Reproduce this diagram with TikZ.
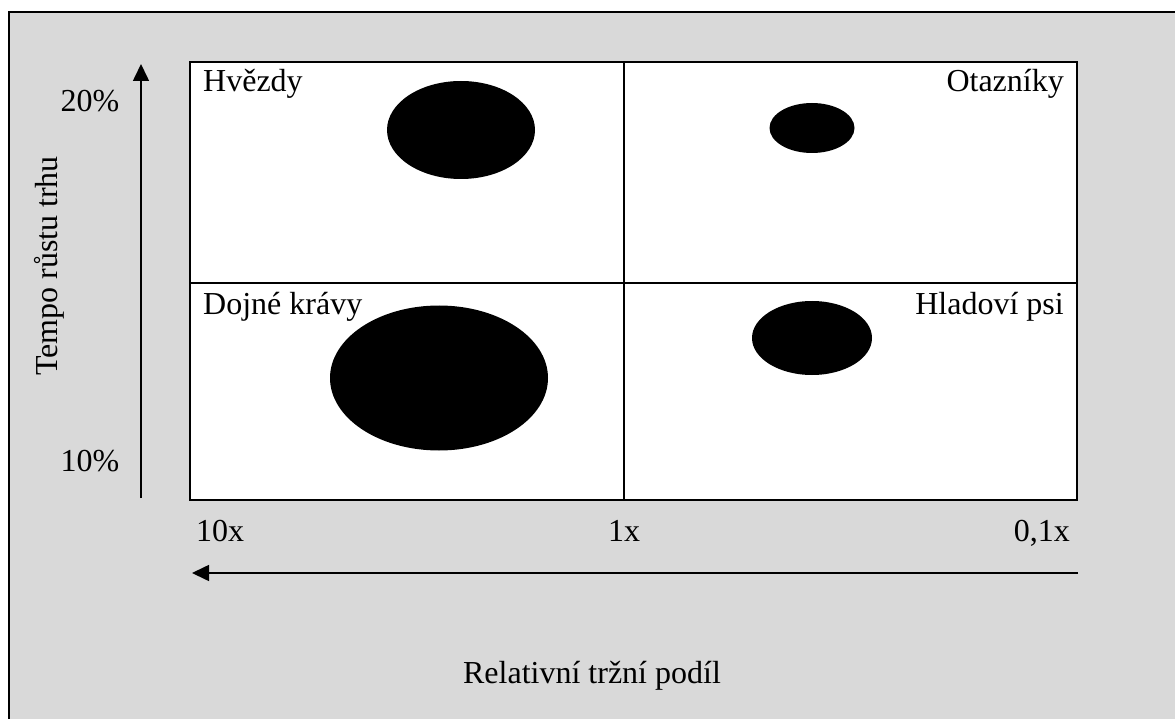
\documentclass[tikz,border=0pt]{standalone}
\usepackage{fontspec}
\setmainfont{Liberation Serif}
\usetikzlibrary{arrows.meta,shapes.geometric}
\begin{document}
\begin{tikzpicture}[x=1pt,y=-1pt,
  lbl/.style={font=\fontsize{32}{38}\selectfont, inner sep=0pt},
  blob/.style={ellipse, fill=black, draw=none, inner sep=0pt},
  axisarrow/.style={line width=1.6pt, -{Triangle[length=17pt,width=16pt]}},
  gridline/.style={line width=2pt}]
  \useasboundingbox (0,0) rectangle (1175,719);
  \clip (0,0) rectangle (1175,719);
  \fill[white] (0,0) rectangle (1175,719);
  % grey panel, framed on its left and top
  \fill[fill={rgb,255:red,217;green,217;blue,217}] (9,12) rectangle (1180,725);
  \draw[line width=2.6pt] (9,725) -- (9,12) -- (1180,12);

  % the four quadrants
  \coordinate (tl) at (190,62);
  \coordinate (br) at (1077,500);
  \coordinate (mt) at (624,62);
  \coordinate (mb) at (624,500);
  \coordinate (ml) at (190,283);
  \coordinate (mr) at (1077,283);
  \fill[white] (tl) rectangle (br);
  \draw[gridline] (tl) rectangle (br);
  \draw[gridline] (mt) -- (mb);
  \draw[gridline] (ml) -- (mr);

  % quadrant titles
  \node[lbl, anchor=base west] (hv) at (203,92) {Hvězdy};
  \node[lbl, anchor=base east] (ot) at (1064,92) {Otazníky};
  \node[lbl, anchor=base west] (dk) at (203,315) {Dojné krávy};
  \node[lbl, anchor=base east] (hp) at (1064,315) {Hladoví psi};

  % business units
  \node[blob, minimum width=148pt, minimum height=98pt] (e1) at (461,130) {};
  \node[blob, minimum width=85pt, minimum height=50pt] (e2) at (812,128) {};
  \node[blob, minimum width=218pt, minimum height=145pt] (e3) at (439,378) {};
  \node[blob, minimum width=120pt, minimum height=74pt] (e4) at (812,338) {};

  % vertical axis
  \coordinate (vy0) at (141,498);
  \coordinate (vy1) at (141,64);
  \draw[axisarrow] (vy0) -- (vy1);
  \node[lbl, anchor=base] (p20) at (90,112) {20\%};
  \node[lbl, anchor=base] (p10) at (90,471) {10\%};
  \node[lbl, rotate=90] (vt) at (49,266) {Tempo růstu trhu};

  % horizontal axis
  \coordinate (hx0) at (1078,573);
  \coordinate (hx1) at (192,573);
  \draw[axisarrow] (hx0) -- (hx1);
  \node[lbl, anchor=base west] (x10) at (196,541) {10x};
  \node[lbl, anchor=base] (x1) at (624,541) {1x};
  \node[lbl, anchor=base east] (x01) at (1070,541) {0,1x};
  \node[lbl, anchor=base] (ht) at (592,683) {Relativní tržní podíl};
\end{tikzpicture}
\end{document}
